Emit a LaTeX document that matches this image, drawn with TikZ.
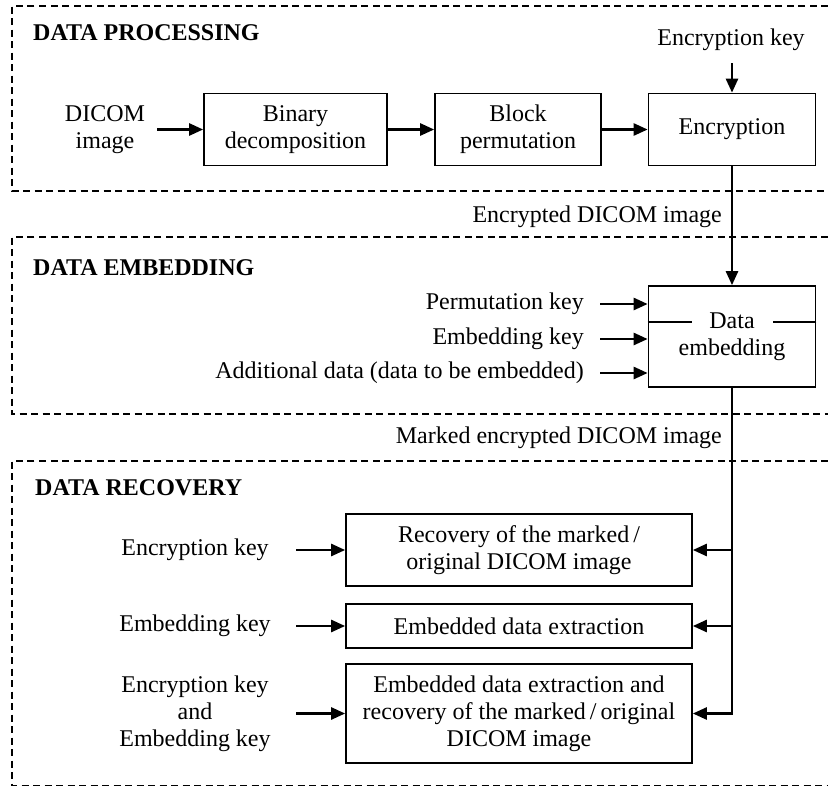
\documentclass[tikz,border=0pt]{standalone}
\usepackage{fontspec}
\setmainfont{Liberation Serif}
\usetikzlibrary{arrows.meta}

\newcommand{\txtsize}{\fontsize{24}{27}\selectfont}

\tikzset{
  frame/.style={line width=1.4pt, dash pattern=on 7pt off 4.5pt},
  blk/.style={draw, line width=1.7pt, align=center, inner sep=2pt},
  lbl/.style={align=center, inner sep=0pt},
  heading/.style={font=\txtsize\bfseries, anchor=west, inner sep=0pt},
  arr/.style={line width=2.6pt, -{Triangle[length=14pt,width=12pt]}},
}

\begin{document}
\begin{tikzpicture}[x=1pt, y=-1pt, every node/.style={font=\txtsize}]
    \useasboundingbox (0,0) rectangle (828,787);

    % Data processing
    \draw[frame] (828,6) -- (12,6) -- (12,191) -- (828,191);
    \node[heading] (hproc) at (33,33) {DATA PROCESSING};
    \node[lbl] (dicom) at (105,129.5) {DICOM\\image};
    \node[blk, minimum width=183, minimum height=72] (bin) at (295.5,129.5) {Binary\\decomposition};
    \node[blk, minimum width=166, minimum height=72] (perm) at (518,129.5) {Block\\permutation};
    \node[blk, minimum width=167, minimum height=72] (enc) at (732,129.5) {Encryption};
    \node[lbl] (ekey) at (731,40) {Encryption key};

    \draw[arr] ([xshift=12pt]dicom.east) -- (bin.west);
    \draw[arr] (bin.east) -- (perm.west);
    \draw[arr] (perm.east) -- (enc.west);
    \draw[arr] ([xshift=1pt,yshift=-23pt]ekey.center) -- (enc.north);

    % Data embedding
    \node[lbl, anchor=east] (encimg) at (722,217) {Encrypted DICOM image};
    \draw[frame] (828,237) -- (12,237) -- (12,414) -- (828,414);
    \node[heading] (hemb) at (33,268) {DATA EMBEDDING};
    \node[blk, minimum width=167, minimum height=101] (emb) at (732,336.5) {Data\\embedding};
    \draw[line width=1.7pt] ([yshift=14.5pt]emb.west) -- ++(44,0);
    \draw[line width=1.7pt] ([yshift=14.5pt]emb.east) -- ++(-43,0);
    \node[lbl, anchor=east] (pkey) at (584,304) {Permutation key};
    \node[lbl, anchor=east] (mkey) at (584,339) {Embedding key};
    \node[lbl, anchor=east] (adata) at (584,373) {Additional data (data to be embedded)};

    \draw[arr] (enc.south) -- (emb.north);
    \draw[arr] ([xshift=16pt]pkey.east) -- (pkey.east -| emb.west);
    \draw[arr] ([xshift=16pt]mkey.east) -- (mkey.east -| emb.west);
    \draw[arr] ([xshift=16pt]adata.east) -- (adata.east -| emb.west);

    % Data recovery
    \node[lbl, anchor=east] (markimg) at (722,438) {Marked encrypted DICOM image};
    \draw[frame] (828,461) -- (12,461) -- (12,785.5) -- (828,785.5);
    \node[heading] (hrec) at (35,488) {DATA RECOVERY};
    \node[blk, minimum width=346, minimum height=72] (rec1) at (519,550) {Recovery of the marked\,/\\original DICOM image};
    \node[blk, minimum width=346, minimum height=44] (rec2) at (519,626) {Embedded data extraction};
    \node[blk, minimum width=346, minimum height=99] (rec3) at (519,713.5) {Embedded data extraction and\\recovery of the marked\,/\,original\\DICOM image};
    \node[lbl] (rkey1) at (195,550) {Encryption key};
    \node[lbl] (rkey2) at (195,626) {Embedding key};
    \node[lbl] (rkey3) at (195,713.5) {Encryption key\\and\\Embedding key};

    \draw[arr] ([xshift=-49pt]rec1.west) -- (rec1.west);
    \draw[arr] ([xshift=-49pt]rec2.west) -- (rec2.west);
    \draw[arr] ([xshift=-49pt]rec3.west) -- (rec3.west);

    \coordinate (trunk) at (emb.south |- rec3.east);
    \draw[arr] (emb.south) -- (trunk) -- (rec3.east);
    \draw[arr] (emb.south |- rec1.east) -- (rec1.east);
    \draw[arr] (emb.south |- rec2.east) -- (rec2.east);
\end{tikzpicture}
\end{document}
